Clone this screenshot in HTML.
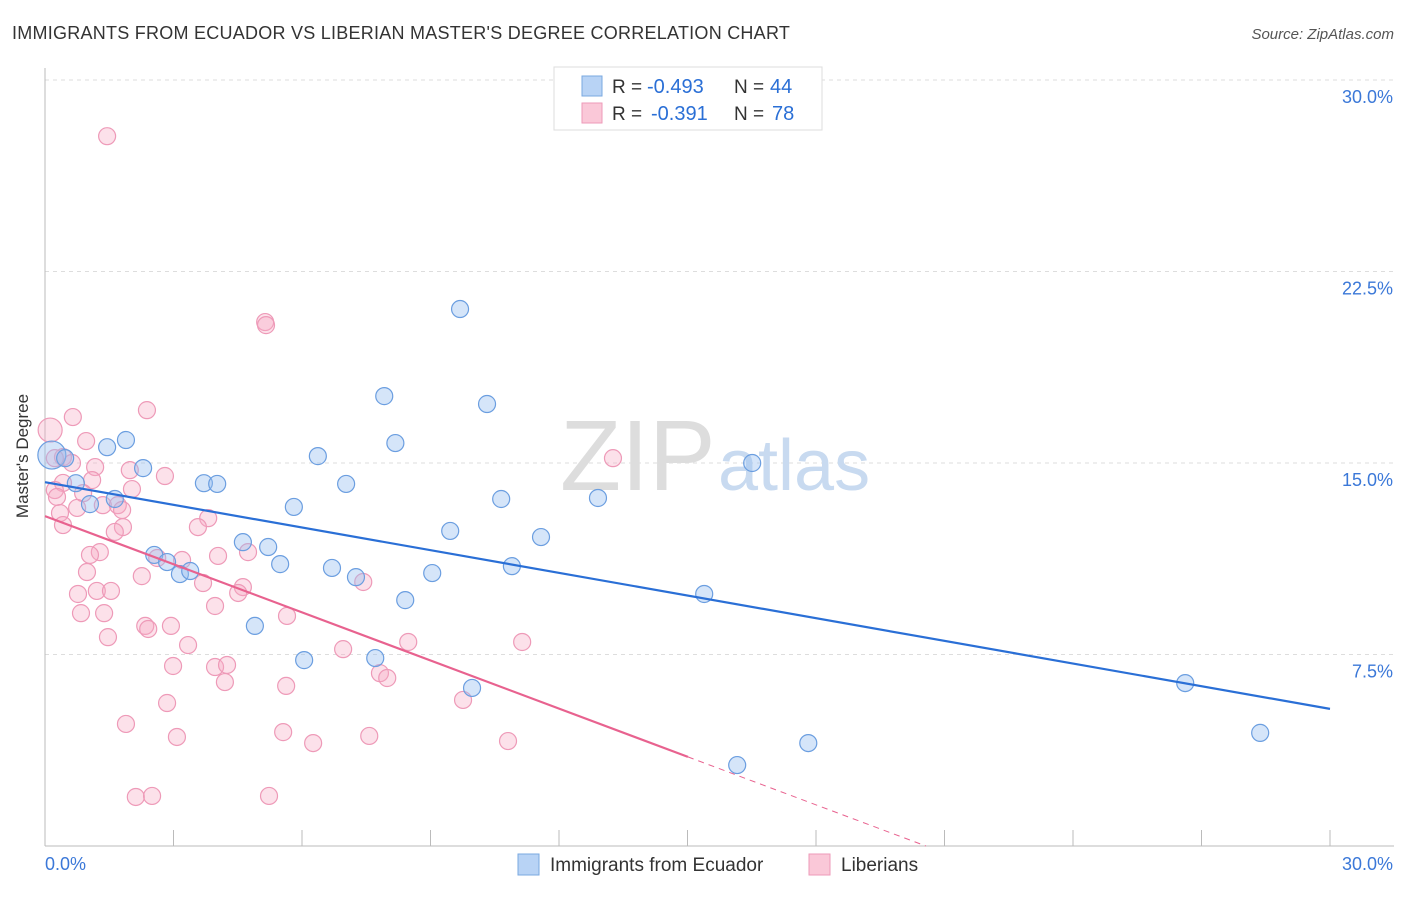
<!DOCTYPE html>
<html><head><meta charset="utf-8"><style>
body{margin:0;background:#fff;font-family:"Liberation Sans",sans-serif}
svg text{font-family:"Liberation Sans",sans-serif}
</style></head><body>
<svg width="1406" height="892">
<text x="12" y="39" font-size="18" fill="#333" letter-spacing="0.25">IMMIGRANTS FROM ECUADOR VS LIBERIAN MASTER'S DEGREE CORRELATION CHART</text>
<text x="1394" y="39" font-size="15" fill="#555" font-style="italic" text-anchor="end">Source: ZipAtlas.com</text>
<g id="grid"></g>
<text x="560" y="490" font-size="100" fill="#ddd" font-family="Liberation Serif">ZIP</text>
<text x="718" y="490" font-size="72" fill="#c8daf0">atlas</text>
<g id="points"></g>
<g id="lines"></g>
<text transform="translate(28,456) rotate(-90)" font-size="17" fill="#333" text-anchor="middle">Master's Degree</text>
<g>
<rect x="554" y="67" width="268" height="63" fill="#fff" stroke="#ddd"/>
<rect x="582" y="76" width="20" height="20" fill="#b8d3f5" stroke="#7aa8e0"/>
<rect x="582" y="103" width="20" height="20" fill="#fac8d8" stroke="#ee9ab8"/>
<text x="612" y="93" font-size="19" fill="#333">R = <tspan x="647" fill="#2a6fd6" font-size="20">-0.493</tspan><tspan x="734">N =</tspan><tspan x="770" fill="#2a6fd6" font-size="20">44</tspan></text>
<text x="612" y="120" font-size="19" fill="#333">R = <tspan x="651" fill="#2a6fd6" font-size="20">-0.391</tspan><tspan x="734">N =</tspan><tspan x="772" fill="#2a6fd6" font-size="20">78</tspan></text>
</g>
<g>
<rect x="518" y="854" width="21" height="21" fill="#b8d3f5" stroke="#7aa8e0"/>
<text x="550" y="871" font-size="19" fill="#333">Immigrants from Ecuador</text>
<rect x="809" y="854" width="21" height="21" fill="#fac8d8" stroke="#ee9ab8"/>
<text x="841" y="871" font-size="19" fill="#333">Liberians</text>
</g>
</svg>
<script>
const yTicks=[7.5,15,22.5,30];
const yTickLabels=["7.5%","15.0%","22.5%","30.0%"];
const xTicks=[0,3,6,9,12,15,18,21,24,27,30];
const xLabels=["0.0%","30.0%"];
const ecuadorX=[0.16,0.47,0.72,1.05,1.45,1.63,1.89,2.29,2.55,2.85,3.15,3.39,3.71,4.02,4.62,4.90,5.21,5.49,5.81,6.05,6.37,6.70,7.03,7.26,7.71,7.92,8.18,8.41,9.04,9.46,9.69,9.97,10.32,10.65,10.90,11.58,12.91,15.39,16.16,16.51,17.82,26.62,28.37];
const ecuadorY=[15.31,15.19,14.21,13.39,15.62,13.59,15.90,14.80,11.40,11.12,10.65,10.77,14.21,14.18,11.90,8.62,11.71,11.04,13.28,7.28,15.27,10.89,14.18,10.53,7.36,17.62,15.78,9.63,10.69,12.34,21.03,6.19,17.31,13.59,10.96,12.10,13.63,9.87,3.17,15.00,4.03,6.38,4.43];
const liberianX=[0.65,2.38,0.12,0.96,0.42,0.63,1.17,1.98,2.80,1.10,0.42,2.03,0.23,0.28,0.89,1.35,1.70,1.80,0.75,0.35,0.42,1.82,1.63,3.81,3.57,4.74,4.04,1.28,1.05,0.98,2.26,2.62,3.20,3.69,4.62,4.51,0.77,1.21,1.54,3.97,0.84,1.38,5.65,2.34,2.41,2.94,1.47,3.34,6.96,2.99,3.97,4.25,4.20,5.63,2.85,1.89,3.08,5.56,6.26,2.12,2.50,5.23,1.45,5.14,5.16,13.26,7.43,8.48,11.14,7.82,7.99,9.76,7.57,10.81,0.23];
const liberianY=[16.80,17.07,16.29,15.86,15.23,15.00,14.84,14.72,14.49,14.33,14.22,13.98,13.94,13.67,13.82,13.35,13.35,13.16,13.24,13.04,12.57,12.49,12.30,12.84,12.49,11.51,11.36,11.51,11.40,10.73,10.57,11.28,11.20,10.30,10.14,9.91,9.87,9.99,9.99,9.40,9.12,9.12,9.01,8.62,8.50,8.62,8.18,7.87,7.71,7.05,7.01,7.09,6.42,6.27,5.60,4.78,4.27,4.46,4.03,1.92,1.96,1.96,27.80,20.52,20.40,15.19,10.34,7.99,7.99,6.77,6.58,5.72,4.31,4.11,15.19];
const ecuadorFit=[14.25,5.37];
const liberianFit=[12.92,15.01,3.49];
const NS='http://www.w3.org/2000/svg';
const sx=v=>45+v/30*1285, sy=v=>846-v/7.5*191.5;
function mk(t,a,p){const e=document.createElementNS(NS,t);for(const k in a)e.setAttribute(k,a[k]);p.appendChild(e);return e;}
const g=document.getElementById('grid');
yTicks.forEach((t,i)=>{
 const l=mk('line',{x1:45,x2:1394,y1:sy(t),y2:sy(t),stroke:'#ddd','stroke-dasharray':'4,4'},g);
 
 
 const tx=mk('text',{x:1393,y:sy(t)+23,'font-size':18,fill:'#3b78d8','text-anchor':'end'},g);tx.textContent=yTickLabels[i];
 
 
});
mk('line',{x1:45,x2:45,y1:68,y2:846,stroke:'#bbb'},g);
mk('line',{x1:45,x2:1394,y1:846,y2:846,stroke:'#bbb'},g);
xTicks.forEach(t=>{const l=mk('line',{x1:sx(t),x2:sx(t),y1:830,y2:846,stroke:'#bbb'},g);
 
 });
let a=mk('text',{x:45,y:870,'font-size':18,fill:'#3b78d8'},g);a.textContent=xLabels[0];


a=mk('text',{x:1393,y:870,'font-size':18,fill:'#3b78d8','text-anchor':'end'},g);a.textContent=xLabels[1];


const P=document.getElementById('points');
liberianX.forEach((x,i)=>{const c=mk('circle',{cx:sx(x),cy:sy(liberianY[i]),r:i==2?12:8.5,fill:'rgba(245,170,195,0.35)',stroke:'#ee9ab8','stroke-width':1.2},P);
 
 });
ecuadorX.forEach((x,i)=>{const c=mk('circle',{cx:sx(x),cy:sy(ecuadorY[i]),r:i==0?14:8.5,fill:'rgba(150,190,240,0.4)',stroke:'#6b9ee0','stroke-width':1.2},P);
 
 });
const L=document.getElementById('lines');
let e=mk('line',{x1:sx(0),y1:sy(ecuadorFit[0]),x2:sx(30),y2:sy(ecuadorFit[1]),stroke:'#2a6fd6','stroke-width':2.2},L);


e=mk('line',{x1:sx(0),y1:sy(liberianFit[0]),x2:sx(liberianFit[1]),y2:sy(liberianFit[2]),stroke:'#e8628f','stroke-width':2.2},L);


const slope=(liberianFit[2]-liberianFit[0])/liberianFit[1], x0=-liberianFit[0]/slope;
e=mk('line',{x1:sx(liberianFit[1]),y1:sy(liberianFit[2]),x2:sx(x0),y2:sy(0),stroke:'#e8628f','stroke-width':1,'stroke-dasharray':'6,5'},L);


</script>
</body></html>
